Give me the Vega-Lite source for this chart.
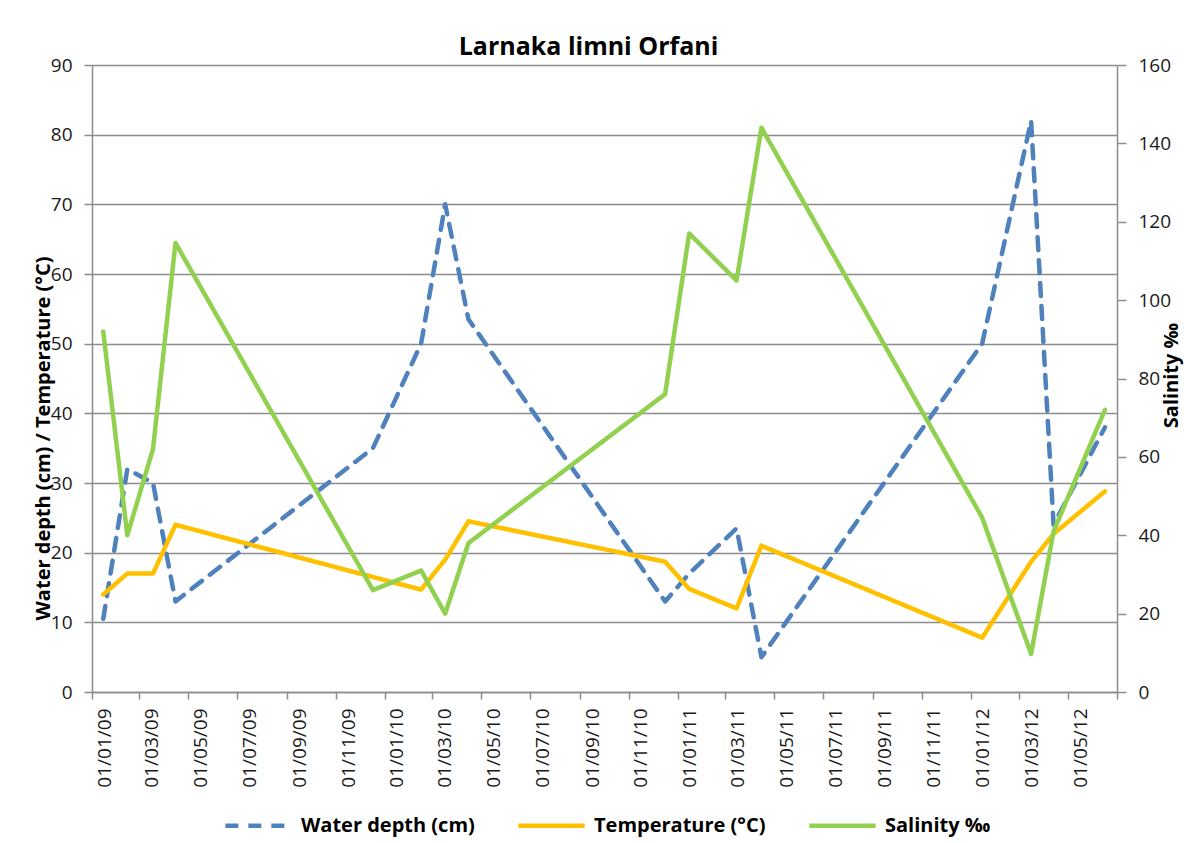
{
  "$schema": "https://vega.github.io/schema/vega-lite/v6.json",
  "width": 1025,
  "height": 627,
  "autosize": {"type": "none"},
  "padding": {"left": 92, "top": 65, "right": 67, "bottom": 151},
  "background": "white",
  "title": {"text": "Larnaka limni Orfani", "font": "Open Sans", "fontSize": 25, "fontWeight": "bold", "color": "#000000", "anchor": "middle", "dx": -16, "offset": -4},
  "config": {
    "view": {"stroke": null},
    "font": "Open Sans",
    "axis": {"domainColor": "#8c8c8c", "domainWidth": 1.5, "tickColor": "#8c8c8c", "tickWidth": 1.5, "gridColor": "#8c8c8c", "gridWidth": 1.5, "labelFont": "Open Sans", "labelFontSize": 19, "labelColor": "#1a1a1a", "titleFont": "Open Sans", "titleFontSize": 20, "titleFontWeight": "bold", "titleColor": "#000000"}
  },
  "data": {"values": [
    {"date": "2009-01-15", "series": "Water depth (cm)", "value": 10.5},
    {"date": "2009-02-14", "series": "Water depth (cm)", "value": 32},
    {"date": "2009-03-18", "series": "Water depth (cm)", "value": 30},
    {"date": "2009-04-15", "series": "Water depth (cm)", "value": 13},
    {"date": "2009-12-17", "series": "Water depth (cm)", "value": 35},
    {"date": "2010-02-15", "series": "Water depth (cm)", "value": 50},
    {"date": "2010-03-17", "series": "Water depth (cm)", "value": 70},
    {"date": "2010-04-15", "series": "Water depth (cm)", "value": 53.5},
    {"date": "2010-12-16", "series": "Water depth (cm)", "value": 13},
    {"date": "2011-01-15", "series": "Water depth (cm)", "value": 17},
    {"date": "2011-03-15", "series": "Water depth (cm)", "value": 23.5},
    {"date": "2011-04-15", "series": "Water depth (cm)", "value": 5},
    {"date": "2012-01-15", "series": "Water depth (cm)", "value": 50},
    {"date": "2012-03-16", "series": "Water depth (cm)", "value": 82},
    {"date": "2012-04-13", "series": "Water depth (cm)", "value": 24},
    {"date": "2012-06-16", "series": "Water depth (cm)", "value": 38},
    {"date": "2009-01-15", "series": "Temperature (°C)", "value": 14},
    {"date": "2009-02-14", "series": "Temperature (°C)", "value": 17},
    {"date": "2009-03-18", "series": "Temperature (°C)", "value": 17},
    {"date": "2009-04-15", "series": "Temperature (°C)", "value": 24},
    {"date": "2009-12-17", "series": "Temperature (°C)", "value": 16.5},
    {"date": "2010-02-15", "series": "Temperature (°C)", "value": 14.7},
    {"date": "2010-03-17", "series": "Temperature (°C)", "value": 19},
    {"date": "2010-04-15", "series": "Temperature (°C)", "value": 24.5},
    {"date": "2010-12-16", "series": "Temperature (°C)", "value": 18.7},
    {"date": "2011-01-15", "series": "Temperature (°C)", "value": 14.8},
    {"date": "2011-03-15", "series": "Temperature (°C)", "value": 12},
    {"date": "2011-04-15", "series": "Temperature (°C)", "value": 21},
    {"date": "2012-01-15", "series": "Temperature (°C)", "value": 7.8},
    {"date": "2012-03-16", "series": "Temperature (°C)", "value": 18.7},
    {"date": "2012-04-13", "series": "Temperature (°C)", "value": 22.7},
    {"date": "2012-06-16", "series": "Temperature (°C)", "value": 28.8},
    {"date": "2009-01-15", "series": "Salinity ‰", "value": 92},
    {"date": "2009-02-14", "series": "Salinity ‰", "value": 40},
    {"date": "2009-03-18", "series": "Salinity ‰", "value": 62},
    {"date": "2009-04-15", "series": "Salinity ‰", "value": 114.6},
    {"date": "2009-12-17", "series": "Salinity ‰", "value": 26},
    {"date": "2010-02-15", "series": "Salinity ‰", "value": 31},
    {"date": "2010-03-17", "series": "Salinity ‰", "value": 20},
    {"date": "2010-04-15", "series": "Salinity ‰", "value": 38},
    {"date": "2010-12-16", "series": "Salinity ‰", "value": 76},
    {"date": "2011-01-15", "series": "Salinity ‰", "value": 117},
    {"date": "2011-03-15", "series": "Salinity ‰", "value": 105},
    {"date": "2011-04-15", "series": "Salinity ‰", "value": 144},
    {"date": "2012-01-15", "series": "Salinity ‰", "value": 44.5},
    {"date": "2012-03-16", "series": "Salinity ‰", "value": 9.7},
    {"date": "2012-04-13", "series": "Salinity ‰", "value": 41},
    {"date": "2012-06-16", "series": "Salinity ‰", "value": 72}
  ]},
  "encoding": {
    "x": {
      "field": "date", "type": "temporal",
      "scale": {"type": "utc", "domain": [{"year": 2009, "month": 1, "date": 1, "utc": true}, {"year": 2012, "month": 7, "date": 1, "utc": true}]},
      "axis": {
        "title": null, "grid": false, "format": "%d/%m/%y",
        "labelExpr": "datum.label == '01/07/12' ? '' : datum.label",
        "values": [
          {"year": 2009, "month": 1, "date": 1, "utc": true}, {"year": 2009, "month": 3, "date": 1, "utc": true}, {"year": 2009, "month": 5, "date": 1, "utc": true}, {"year": 2009, "month": 7, "date": 1, "utc": true}, {"year": 2009, "month": 9, "date": 1, "utc": true}, {"year": 2009, "month": 11, "date": 1, "utc": true},
          {"year": 2010, "month": 1, "date": 1, "utc": true}, {"year": 2010, "month": 3, "date": 1, "utc": true}, {"year": 2010, "month": 5, "date": 1, "utc": true}, {"year": 2010, "month": 7, "date": 1, "utc": true}, {"year": 2010, "month": 9, "date": 1, "utc": true}, {"year": 2010, "month": 11, "date": 1, "utc": true},
          {"year": 2011, "month": 1, "date": 1, "utc": true}, {"year": 2011, "month": 3, "date": 1, "utc": true}, {"year": 2011, "month": 5, "date": 1, "utc": true}, {"year": 2011, "month": 7, "date": 1, "utc": true}, {"year": 2011, "month": 9, "date": 1, "utc": true}, {"year": 2011, "month": 11, "date": 1, "utc": true},
          {"year": 2012, "month": 1, "date": 1, "utc": true}, {"year": 2012, "month": 3, "date": 1, "utc": true}, {"year": 2012, "month": 5, "date": 1, "utc": true}, {"year": 2012, "month": 7, "date": 1, "utc": true}
        ],
        "labelAngle": 270, "labelAlign": "right", "labelBaseline": "middle", "labelOffset": 12, "labelPadding": 9, "tickSize": 7, "labelOverlap": false, "labelFlush": false
      }
    },
    "color": {
      "field": "series", "type": "nominal",
      "scale": {"domain": ["Water depth (cm)", "Temperature (°C)", "Salinity ‰"], "range": ["#4F81BD", "#FFC000", "#92D050"]},
      "legend": {"title": null, "orient": "none", "direction": "horizontal", "legendX": 131, "legendY": 725, "symbolType": "stroke", "symbolSize": 4400, "symbolStrokeWidth": 4.5, "labelFont": "Open Sans", "labelFontSize": 20, "labelFontWeight": "bold", "labelColor": "#000000", "labelOffset": 7, "labelLimit": 0, "columnPadding": 34, "padding": 0}
    },
    "strokeDash": {
      "field": "series", "type": "nominal",
      "scale": {"domain": ["Water depth (cm)", "Temperature (°C)", "Salinity ‰"], "range": [[13, 10], [1, 0], [1, 0]]},
      "legend": {"title": null, "orient": "none", "direction": "horizontal", "legendX": 131, "legendY": 725, "symbolType": "stroke", "symbolSize": 4400, "symbolStrokeWidth": 4.5, "labelFont": "Open Sans", "labelFontSize": 20, "labelFontWeight": "bold", "labelColor": "#000000", "labelOffset": 7, "labelLimit": 0, "columnPadding": 34, "padding": 0}
    }
  },
  "layer": [
    {
      "transform": [{"filter": "datum.series != 'Salinity ‰'"}],
      "mark": {"type": "line", "strokeWidth": 4.5, "strokeCap": "round", "strokeJoin": "round"},
      "encoding": {
        "y": {
          "field": "value", "type": "quantitative",
          "scale": {"domain": [0, 90], "nice": false},
          "axis": {"orient": "left", "title": "Water depth (cm) / Temperature (°C)", "values": [0, 10, 20, 30, 40, 50, 60, 70, 80, 90], "grid": true, "tickSize": 8, "labelPadding": 12, "titleAngle": 270, "titleX": -49, "titleY": 373, "titleAlign": "center", "titleBaseline": "middle"}
        }
      }
    },
    {
      "transform": [{"filter": "datum.series == 'Salinity ‰'"}],
      "mark": {"type": "line", "strokeWidth": 4.5, "strokeCap": "round", "strokeJoin": "round"},
      "encoding": {
        "y": {
          "field": "value", "type": "quantitative",
          "scale": {"domain": [0, 160], "nice": false},
          "axis": {"orient": "right", "title": "Salinity ‰", "values": [0, 20, 40, 60, 80, 100, 120, 140, 160], "grid": false, "tickSize": 9, "labelPadding": 12, "titleAngle": 270, "titleX": 54, "titleY": 310, "titleAlign": "center", "titleBaseline": "middle"}
        }
      }
    }
  ],
  "resolve": {"scale": {"y": "independent"}}
}
